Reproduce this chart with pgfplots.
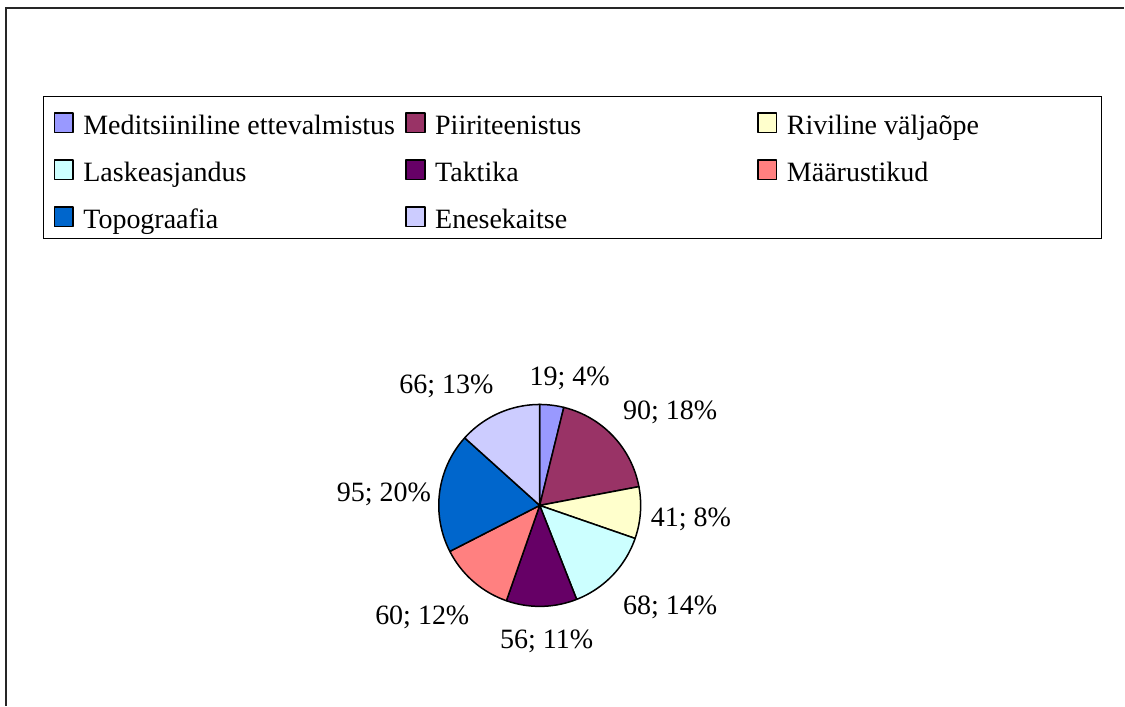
\documentclass[border=0pt]{standalone}
\usepackage{fontspec}
\setmainfont{Liberation Serif}
\usepackage{pgfplots}
\pgfplotsset{compat=1.18}

\definecolor{cMed}{HTML}{9999FF}
\definecolor{cPii}{HTML}{993366}
\definecolor{cRiv}{HTML}{FFFFCC}
\definecolor{cLas}{HTML}{CCFFFF}
\definecolor{cTak}{HTML}{660066}
\definecolor{cMaa}{HTML}{FF8080}
\definecolor{cTop}{HTML}{0066CC}
\definecolor{cEne}{HTML}{CCCCFF}

% pie geometry (axis units = reference pixels, y upwards)
\def\cx{540}
\def\cy{200.3}
\def\r{101}
\def\total{495}
\gdef\cumval{0}
\newcommand\slice[2]{%
  \pgfmathsetmacro\astart{90-(\cumval/\total)*360}%
  \pgfmathsetmacro\cumnew{\cumval+#1}%
  \global\let\cumval\cumnew
  \pgfmathsetmacro\aend{90-(\cumval/\total)*360}%
  \edef\doslice{\noexpand\addplot[fill=#2, draw=black, line width=0.75pt, line join=round,
     domain=\aend:\astart, samples=90, variable=\noexpand\t]
     ({\cx+\r*cos(\noexpand\t)}, {\cy+\r*sin(\noexpand\t)}) -- (axis cs:\cx,\cy) -- cycle;}%
  \doslice
}
\newcommand\lab[1]{\makebox[156.3pt][l]{#1}}

\begin{document}
\begin{tikzpicture}
\begin{axis}[
  width=562.5pt, height=353pt, scale only axis,
  xmin=0, xmax=1125, ymin=0, ymax=706,
  hide axis, clip=false,
  legend columns=3, legend cell align=left,
  legend style={draw=none, fill=none, inner sep=0pt,
    at={(0.04724,0.84377)}, anchor=north west,
    column sep=4.775pt, row sep=8pt,
    nodes={inner sep=0pt, text height=12pt, text depth=3.5pt},
    font=\fontsize{14pt}{16pt}\selectfont},
  legend image code/.code={\draw[#1, draw=black, line width=0.85pt] (0pt,-3.25pt) rectangle (9.3pt,6.55pt);},
]
% invisible frame fixing the picture's extent
\path (axis cs:0,0) rectangle (axis cs:1125,706);
% outer chart border (left and top visible)
\draw[line width=0.6pt, black!85] (axis cs:6,0) -- (axis cs:6,698) -- (axis cs:1125,698);
% legend frame
\draw[line width=0.5pt, black] (axis cs:44,609) rectangle (axis cs:1102,467);

\slice{19}{cMed}\addlegendentry{\lab{Meditsiiniline ettevalmistus}}
\slice{90}{cPii}\addlegendentry{\lab{Piiriteenistus}}
\slice{41}{cRiv}\addlegendentry{\lab{Riviline väljaõpe}}
\slice{68}{cLas}\addlegendentry{\lab{Laskeasjandus}}
\slice{56}{cTak}\addlegendentry{\lab{Taktika}}
\slice{60}{cMaa}\addlegendentry{\lab{Määrustikud}}
\slice{95}{cTop}\addlegendentry{\lab{Topograafia}}
\slice{66}{cEne}\addlegendentry{\lab{Enesekaitse}}

% data labels
\begin{scope}[every node/.style={anchor=base, inner sep=0pt, font=\fontsize{14pt}{16pt}\selectfont}]
\node at (axis cs:570,320) {19; 4\%};
\node at (axis cs:670.5,286) {90; 18\%};
\node at (axis cs:691.3,179.3) {41; 8\%};
\node at (axis cs:670.5,91) {68; 14\%};
\node at (axis cs:547,56.7) {56; 11\%};
\node at (axis cs:422.5,81) {60; 12\%};
\node at (axis cs:384,204.3) {95; 20\%};
\node at (axis cs:446.7,312.7) {66; 13\%};
\end{scope}
\end{axis}
\end{tikzpicture}
\end{document}
